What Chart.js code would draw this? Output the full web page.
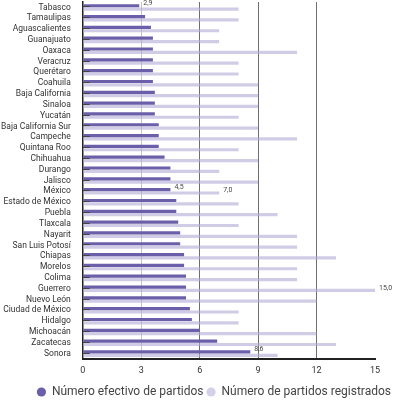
<!DOCTYPE html>
<html>
<head>
<meta charset="utf-8">
<script src="https://cdn.jsdelivr.net/npm/chart.js@4"></script>
<style>
  html, body { margin: 0; padding: 0; background: #fff; }
  #wrap { width: 394px; height: 402px; }
</style>
</head>
<body>
<div id="wrap"><canvas id="chart"></canvas></div>
<script>
const estados = ['Tabasco', 'Tamaulipas', 'Aguascalientes', 'Guanajuato', 'Oaxaca', 'Veracruz',
  'Querétaro', 'Coahuila', 'Baja California', 'Sinaloa', 'Yucatán', 'Baja California Sur',
  'Campeche', 'Quintana Roo', 'Chihuahua', 'Durango', 'Jalisco', 'México', 'Estado de México',
  'Puebla', 'Tlaxcala', 'Nayarit', 'San Luis Potosí', 'Chiapas', 'Morelos', 'Colima',
  'Guerrero', 'Nuevo León', 'Ciudad de México', 'Hidalgo', 'Michoacán', 'Zacatecas', 'Sonora'];

const efectivos = [2.9, 3.2, 3.5, 3.6, 3.6, 3.6, 3.6, 3.6, 3.7, 3.7, 3.7, 3.9, 3.9, 3.9, 4.2,
  4.5, 4.5, 4.5, 4.8, 4.8, 4.9, 5.0, 5.0, 5.2, 5.2, 5.3, 5.3, 5.3, 5.5, 5.6, 6.0, 6.9, 8.6];

const registrados = [8, 8, 7, 7, 11, 8, 8, 9, 9, 9, 8, 9, 11, 8, 9, 7, 9, 7, 8, 10, 8, 11, 11,
  13, 11, 11, 15, 12, 8, 8, 12, 13, 10];

// only these bars carry a value label in the original
const etiquetasEfectivos = ['Tabasco', 'México', 'Sonora'];
const etiquetasRegistrados = ['México', 'Guerrero'];

const xTicks = [0, 3, 6, 9, 12, 15];

const fmt = v => v.toFixed(1).replace('.', ',');

// short tick marks inside the plot at each state, over the bars, plus value labels
const marks = {
  id: 'marks',
  afterDatasetsDraw(chart) {
    const ctx = chart.ctx;
    const y = chart.scales.y;
    const left = chart.chartArea.left;
    ctx.save();
    ctx.strokeStyle = '#444';
    ctx.lineWidth = 1;
    estados.forEach((e, i) => {
      const py = Math.round(y.getPixelForValue(i)) - 0.5;
      ctx.beginPath();
      ctx.moveTo(left, py);
      ctx.lineTo(left + 7, py);
      ctx.stroke();
    });

    const lists = [etiquetasEfectivos, etiquetasRegistrados];
    ctx.font = '7px Roboto';
    ctx.fillStyle = '#444';
    ctx.textAlign = 'left';
    ctx.textBaseline = 'bottom';
    chart.data.datasets.forEach((ds, di) => {
      const meta = chart.getDatasetMeta(di);
      meta.data.forEach((bar, i) => {
        if (!lists[di].includes(estados[i])) return;
        ctx.fillText(fmt(ds.data[i]), bar.x + 4, bar.y + 1);
      });
    });
    ctx.restore();
  }
};

new Chart(document.getElementById('chart'), {
  type: 'bar',
  data: {
    labels: estados,
    datasets: [{
      label: 'Número efectivo de partidos',
      data: efectivos,
      backgroundColor: '#6a5fa8',
      categoryPercentage: 0.62,
      barPercentage: 0.95
    }, {
      label: 'Número de partidos registrados',
      data: registrados,
      backgroundColor: 'rgba(178,170,214,0.6)',
      categoryPercentage: 0.62,
      barPercentage: 0.95
    }]
  },
  options: {
    indexAxis: 'y',
    responsive: true,
    maintainAspectRatio: false,
    animation: false,
    layout: { padding: { top: 2, right: 0, left: -3, bottom: -6 } },
    scales: {
      x: {
        min: 0,
        max: 15,
        afterBuildTicks: axis => { axis.ticks = xTicks.map(v => ({ value: v })); },
        afterFit: axis => { axis.paddingRight = 19; },
        grid: {
          drawTicks: false,
          color: c => c.tick.value === 3 ? '#c4c4c4' : (c.tick.value === 15 || c.tick.value === 0 ? 'rgba(0,0,0,0)' : '#6e6e6e'),
          lineWidth: 1
        },
        border: { color: '#222', width: 2 },
        ticks: {
          padding: 1,
          color: '#333',
          font: { family: 'Roboto', size: 9, lineHeight: 2.44 }
        }
      },
      y: {
        afterFit: axis => { axis.paddingTop = 0; axis.paddingBottom = 0; },
        grid: { display: false },
        border: { color: '#222', width: 1.5 },
        ticks: {
          padding: 4,
          autoSkip: false,
          color: '#333',
          font: { family: 'Roboto', size: 8.5 }
        }
      }
    },
    plugins: {
      legend: {
        position: 'bottom',
        align: 'end',
        labels: {
          usePointStyle: true,
          pointStyle: 'circle',
          boxWidth: 9,
          boxHeight: 6.5,
          padding: 3,
          color: '#444',
          font: { family: 'Roboto', size: 12 },
          generateLabels: chart => Chart.defaults.plugins.legend.labels.generateLabels(chart).map((l, i) => {
            l.fillStyle = i === 0 ? '#6a5fa8' : '#d4d0e7';
            l.strokeStyle = l.fillStyle;
            return l;
          })
        }
      },
      tooltip: { enabled: false }
    }
  },
  plugins: [marks]
});
</script>
</body>
</html>
